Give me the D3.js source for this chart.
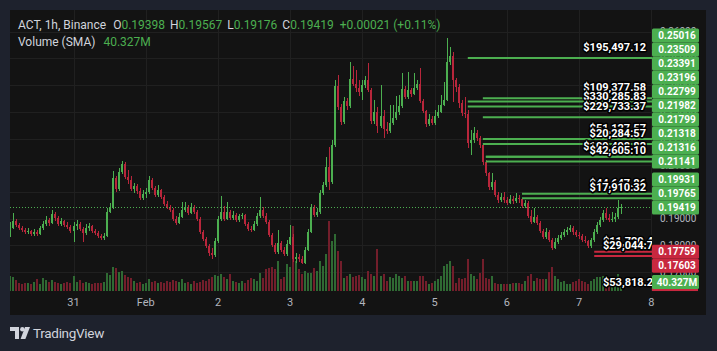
<!DOCTYPE html>
<html><head><meta charset="utf-8">
<script src="https://cdn.jsdelivr.net/npm/d3@7"></script>
<style>
html,body{margin:0;padding:0;background:#1e222d;overflow:hidden;}
svg{display:block;font-family:Roboto,"Liberation Sans",Arial,sans-serif;}
</style></head><body>
<svg id="c" width="717" height="351"></svg>
<script>
// ---------------- data ----------------
const firstCandle = "2025-01-30T03:00:00Z";   // hourly candles
const firstOpen = 0.1839;
const closes = [
0.1865,0.1891,0.1876,0.1865,0.1858,0.1850,0.1854,0.1843,0.1850,0.1843,
0.1865,0.1880,0.1895,0.1884,0.1918,0.1903,0.1880,0.1891,0.1876,0.1869,
0.1854,0.1873,0.1880,0.1861,0.1846,0.1865,0.1873,0.1854,0.1846,0.1835,
0.1828,0.1835,0.1925,0.1944,0.2052,0.2011,0.2075,0.2105,0.2056,0.2045,
0.2011,0.2022,0.2004,0.1977,0.1992,0.2000,0.2045,0.2015,0.1989,0.2007,
0.1981,0.1955,0.1944,0.1933,0.1899,0.1884,0.1906,0.1933,0.1944,0.1921,
0.1944,0.1925,0.1899,0.1850,0.1824,0.1798,0.1771,0.1764,0.1816,0.1899,
0.1925,0.1899,0.1925,0.1903,0.1914,0.1895,0.1910,0.1914,0.1880,0.1861,
0.1858,0.1880,0.1910,0.1933,0.1910,0.1888,0.1839,0.1801,0.1775,0.1809,
0.1783,0.1768,0.1805,0.1831,0.1749,0.1756,0.1749,0.1734,0.1783,0.1850,
0.1944,0.1914,0.1925,0.1996,0.2026,0.2094,0.2037,0.2176,0.2397,0.2318,
0.2262,0.2341,0.2322,0.2423,0.2404,0.2389,0.2374,0.2401,0.2419,0.2382,
0.2266,0.2299,0.2247,0.2284,0.2236,0.2228,0.2258,0.2277,0.2299,0.2322,
0.2386,0.2356,0.2382,0.2367,0.2389,0.2404,0.2341,0.2303,0.2255,0.2273,
0.2258,0.2284,0.2299,0.2326,0.2344,0.2487,0.2509,0.2419,0.2393,0.2333,
0.2296,0.2292,0.2183,0.2195,0.2221,0.2202,0.2176,0.2113,0.2071,0.2019,
0.2037,0.1989,0.1970,0.1981,0.1970,0.1959,0.1974,0.1966,0.1977,0.1974,
0.1947,0.1959,0.1910,0.1888,0.1906,0.1884,0.1854,0.1831,0.1850,0.1820,
0.1790,0.1813,0.1828,0.1839,0.1850,0.1858,0.1865,0.1850,0.1839,0.1835,
0.1820,0.1816,0.1798,0.1820,0.1850,0.1876,0.1895,0.1921,0.1903,0.1895,
0.1899,0.1906,0.19398,0.19419];
const highs = [
0.1888,0.1921,0.1899,0.1884,0.1873,0.1865,0.1865,0.1858,0.1861,0.1858,
0.1873,0.1891,0.1910,0.1903,0.1933,0.1925,0.1910,0.1903,0.1895,0.1888,
0.1876,0.1888,0.1895,0.1888,0.1869,0.1880,0.1884,0.1876,0.1861,0.1854,
0.1843,0.1846,0.1940,0.1959,0.2079,0.2060,0.2090,0.2116,0.2113,0.2082,
0.2060,0.2034,0.2030,0.2015,0.2007,0.2015,0.2060,0.2052,0.2022,0.2026,
0.2011,0.1989,0.1966,0.1951,0.1940,0.1910,0.1921,0.1962,0.1962,0.1951,
0.1959,0.1951,0.1933,0.1906,0.1858,0.1831,0.1805,0.1790,0.1828,0.1910,
0.1985,0.1947,0.1962,0.1933,0.1929,0.1921,0.1918,0.1921,0.1918,0.1888,
0.1873,0.1891,0.1921,0.1981,0.1944,0.1921,0.1895,0.1846,0.1809,0.1858,
0.1816,0.1794,0.1820,0.1876,0.1843,0.1771,0.1768,0.1760,0.1794,0.1861,
0.1955,0.1951,0.1940,0.2007,0.2037,0.2132,0.2168,0.2195,0.2419,0.2438,
0.2329,0.2356,0.2352,0.2487,0.2472,0.2457,0.2419,0.2419,0.2435,0.2483,
0.2389,0.2344,0.2318,0.2401,0.2307,0.2262,0.2326,0.2326,0.2359,0.2363,
0.2445,0.2397,0.2449,0.2389,0.2445,0.2419,0.2464,0.2348,0.2307,0.2292,
0.2284,0.2307,0.2326,0.2363,0.2412,0.2577,0.2543,0.2524,0.2427,0.2404,
0.2344,0.2356,0.2307,0.2232,0.2243,0.2232,0.2210,0.2183,0.2120,0.2075,
0.2071,0.2045,0.2000,0.1996,0.2000,0.1981,0.1989,0.1985,0.1996,0.1989,
0.1977,0.1970,0.1966,0.1933,0.1940,0.1914,0.1891,0.1861,0.1865,0.1858,
0.1828,0.1828,0.1839,0.1850,0.1861,0.1869,0.1876,0.1873,0.1858,0.1850,
0.1843,0.1835,0.1820,0.1828,0.1861,0.1888,0.1906,0.1933,0.1940,0.1918,
0.1925,0.1921,0.1970,0.19567];
const lows = [
0.1831,0.1861,0.1869,0.1858,0.1850,0.1843,0.1843,0.1835,0.1835,0.1835,
0.1839,0.1858,0.1873,0.1873,0.1880,0.1891,0.1873,0.1873,0.1869,0.1861,
0.1846,0.1813,0.1858,0.1854,0.1813,0.1839,0.1854,0.1846,0.1839,0.1828,
0.1820,0.1820,0.1831,0.1921,0.1936,0.2000,0.2004,0.2067,0.2049,0.2030,
0.2004,0.1996,0.1992,0.1970,0.1970,0.1977,0.1992,0.2007,0.1981,0.1981,
0.1974,0.1947,0.1936,0.1925,0.1891,0.1876,0.1880,0.1903,0.1925,0.1914,
0.1918,0.1918,0.1891,0.1843,0.1816,0.1790,0.1760,0.1749,0.1756,0.1809,
0.1891,0.1891,0.1895,0.1895,0.1895,0.1888,0.1888,0.1899,0.1873,0.1854,
0.1850,0.1854,0.1873,0.1903,0.1903,0.1880,0.1831,0.1794,0.1768,0.1768,
0.1775,0.1760,0.1760,0.1801,0.1738,0.1734,0.1738,0.1730,0.1730,0.1779,
0.1846,0.1906,0.1906,0.1918,0.1989,0.2019,0.2007,0.2030,0.2168,0.2307,
0.2251,0.2255,0.2307,0.2314,0.2397,0.2374,0.2359,0.2344,0.2389,0.2374,
0.2255,0.2255,0.2221,0.2240,0.2202,0.2217,0.2221,0.2251,0.2270,0.2288,
0.2314,0.2348,0.2348,0.2356,0.2363,0.2382,0.2333,0.2296,0.2243,0.2247,
0.2251,0.2251,0.2277,0.2296,0.2322,0.2341,0.2475,0.2337,0.2374,0.2314,
0.2284,0.2277,0.2165,0.2139,0.2183,0.2191,0.2165,0.2101,0.2060,0.2007,
0.2007,0.1981,0.1959,0.1962,0.1959,0.1951,0.1955,0.1955,0.1959,0.1959,
0.1940,0.1940,0.1903,0.1880,0.1884,0.1876,0.1846,0.1824,0.1824,0.1813,
0.1783,0.1786,0.1805,0.1820,0.1831,0.1839,0.1850,0.1839,0.1831,0.1824,
0.1813,0.1809,0.1790,0.1790,0.1813,0.1843,0.1869,0.1888,0.1895,0.1888,
0.1888,0.1888,0.1899,0.19176];
const volumes = [ // millions
67,63,49,36,31,36,36,31,40,54, 31,58,49,40,49,40,36,31,36,40,
36,67,40,49,36,40,36,31,36,36, 36,40,81,72,108,103,85,90,72,63,
58,45,36,40,31,36,54,40,45,36, 40,36,45,40,49,45,40,54,36,40,
31,45,36,40,49,45,54,63,72,67, 76,63,54,76,45,40,36,45,36,49,
58,54,45,81,58,99,103,108,99,134, 54,63,121,108,291,134,99,76,90,81,
81,103,90,134,112,166,314,224,255,179, 134,58,67,76,63,67,72,63,54,90,
76,67,188,67,76,45,63,58,76,67, 58,67,45,45,45,45,67,67,45,31,
36,45,54,67,112,121,134,112,36,58, 54,58,143,76,67,54,81,143,58,54,
67,36,31,31,31,31,31,36,36,36, 31,45,67,76,45,58,54,54,54,85,
108,67,54,40,45,31,31,40,45,54, 45,40,31,45,54,63,63,67,54,45,
58,63,76,18];

const dayTicks = ["2025-01-31","2025-02-01","2025-02-02","2025-02-03","2025-02-04","2025-02-05","2025-02-06","2025-02-07","2025-02-08"];
const dayLabels = ["31","Feb","2","3","4","5","6","7","8"];
const priceTicks = [0.17,0.18,0.19,0.20,0.21,0.22,0.23,0.24,0.25,0.26];

const greenLevels     = [0.25016,0.23509,0.23391,0.23196,0.22799,0.21982,0.21799,0.21318,0.21316,0.21141,0.19931,0.19765];
const greenLevelStart = [152,157,152,152,157,157,157,158,158,158,170,170]; // candle index where line begins
const greenLevelText  = ["$195,497.12","$109,377.58","","$330,285.83","$229,733.37","$51,127.57","$20,284.57","$109,498.82","","$42,605.10","$44,647.86","$17,910.32"];
const redLevels     = [0.17759,0.17603];
const redLevelStart = [194,194];
const redLevelText  = ["$11,720.45","$29,044.71"];

const lastPrice = 0.19419;
const legendTitle = "ACT, 1h, Binance";
const legendKeys = ["O","H","L","C"];
const legendVals = ["0.19398","0.19567","0.19176","0.19419"];
const legendChange = "+0.00021 (+0.11%)";
const volumeSMA = 40.327;
const volumeSMAText = "40.327M";
const volumeLevelText = "$53,818.25";

// ---------------- layout ----------------
const W = 717, H = 351;
const paneL = 10, paneT = 10, paneR = 706, paneB = 315, plotR = 652, volBase = 291;
const GREEN = "#4caf50", RED = "#b8263b", RED_LBL = "#c8283f";
const VGREEN = "#2f6a33", VRED = "#731e2b";

const svg = d3.select("#c");
svg.append("rect").attr("width", W).attr("height", H).attr("fill", "#1e222d");
svg.append("rect").attr("x", paneL).attr("y", paneT).attr("width", paneR - paneL).attr("height", paneB - paneT).attr("fill", "#131313");

const x = d3.scaleUtc().domain([new Date("2025-01-31T00:00:00Z"), new Date("2025-02-08T00:00:00Z")]).range([73.5, 651.4]);
const y = d3.scaleLinear().domain([0.17, 0.26]).range([272.1, 31.7]);
const vy = d3.scaleLinear().domain([0, 320]).range([volBase, volBase - 71.1]);

svg.append("defs").append("clipPath").attr("id", "plot")
  .append("rect").attr("x", paneL).attr("y", paneT).attr("width", plotR - paneL).attr("height", volBase - paneT);

const plot = svg.append("g").attr("clip-path", "url(#plot)");

// grid
plot.append("g").selectAll("line").data(priceTicks).join("line")
  .attr("x1", paneL).attr("x2", plotR)
  .attr("y1", d => Math.round(y(d)) + 0.5).attr("y2", d => Math.round(y(d)) + 0.5)
  .attr("stroke", "#202020");
const dayDates = dayTicks.map(d => new Date(d + "T00:00:00Z"));
plot.append("g").selectAll("line").data(dayDates).join("line")
  .attr("y1", paneT).attr("y2", volBase)
  .attr("x1", d => Math.round(x(d)) + 0.5).attr("x2", d => Math.round(x(d)) + 0.5)
  .attr("stroke", "#202020");

// candles
const t0 = new Date(firstCandle);
const candles = closes.map((c, i) => {
  const o = i === 0 ? firstOpen : (i === closes.length - 1 ? +legendVals[0] : closes[i - 1]);
  return { t: d3.utcHour.offset(t0, i), o, c, h: highs[i], l: lows[i], v: volumes[i], up: c >= o };
});

plot.append("g").attr("shape-rendering", "crispEdges").selectAll("rect").data(candles).join("rect")
  .attr("x", d => Math.round(x(d.t)) - 1).attr("width", 2)
  .attr("y", d => vy(d.v)).attr("height", d => volBase - vy(d.v))
  .attr("fill", d => d.up ? VGREEN : VRED);

const cg = plot.append("g").attr("shape-rendering", "crispEdges");
cg.selectAll("rect.w").data(candles).join("rect").attr("class", "w")
  .attr("x", d => Math.round(x(d.t)) - 0.5).attr("width", 1)
  .attr("y", d => y(d.h)).attr("height", d => Math.max(1, y(d.l) - y(d.h)))
  .attr("fill", d => d.up ? GREEN : RED);
cg.selectAll("rect.b").data(candles).join("rect").attr("class", "b")
  .attr("x", d => Math.round(x(d.t)) - 1).attr("width", 2)
  .attr("y", d => y(Math.max(d.o, d.c))).attr("height", d => Math.max(1, Math.abs(y(d.o) - y(d.c))))
  .attr("fill", d => d.up ? GREEN : RED);

// level lines
const lines = greenLevels.map((p, i) => ({ p, s: greenLevelStart[i], txt: greenLevelText[i], col: GREEN, anchor: "end" }))
  .concat(redLevels.map((p, i) => ({ p, s: redLevelStart[i], txt: redLevelText[i], col: RED_LBL, anchor: "start" })));
plot.append("g").selectAll("line").data(lines).join("line")
  .attr("x1", d => x(d3.utcHour.offset(t0, d.s))).attr("x2", plotR)
  .attr("y1", d => y(d.p)).attr("y2", d => y(d.p))
  .attr("stroke", d => d.col).attr("stroke-width", 2);

// current price dotted line
plot.append("line").attr("x1", paneL).attr("x2", plotR)
  .attr("y1", Math.round(y(lastPrice)) + 0.5).attr("y2", Math.round(y(lastPrice)) + 0.5)
  .attr("stroke", GREEN).attr("stroke-dasharray", "1 2");

// dollar labels
const lbl = plot.append("g").attr("font-size", 11).attr("font-weight", 700)
  .attr("fill", "#ffffff").attr("stroke", "#000").attr("stroke-width", 3)
  .attr("stroke-linejoin", "round").attr("paint-order", "stroke");
lbl.selectAll("text").data(lines.filter(d => d.txt)).join("text")
  .attr("x", d => d.anchor === "end" ? 646 : 603)
  .attr("y", d => y(d.p) - 11).attr("dy", "0.36em")
  .attr("text-anchor", d => d.anchor).text(d => d.txt);
lbl.append("text").attr("x", 603).attr("y", vy(volumeSMA)).attr("dy", "0.36em").text(volumeLevelText);

// header legend
const hdr = svg.append("g").attr("font-size", 12).attr("fill", "#d1d4dc");
const l1 = hdr.append("text").attr("x", 18).attr("y", 29);
l1.append("tspan").text(legendTitle);
legendKeys.forEach((k, i) => {
  l1.append("tspan").attr("dx", i === 0 ? 7 : 5).text(k);
  l1.append("tspan").attr("fill", GREEN).text(legendVals[i]);
});
l1.append("tspan").attr("dx", 6).attr("fill", GREEN).text(legendChange);
const l2 = hdr.append("text").attr("x", 18).attr("y", 46);
l2.append("tspan").text("Volume (SMA)");
l2.append("tspan").attr("dx", 8).attr("fill", GREEN).text(volumeSMAText);

// price axis tick labels
svg.append("g").attr("font-size", 10).attr("fill", "#b2b5be")
  .selectAll("text").data(priceTicks).join("text")
  .attr("x", 660).attr("y", d => y(d)).attr("dy", "0.36em")
  .text(d => d3.format(".5f")(d));

// price axis label boxes with stacking
const cur = { p: lastPrice, fill: GREEN, txt: d3.format(".5f")(lastPrice) };
cur.ly = y(lastPrice);
const above = greenLevels.map(p => ({ p, fill: GREEN, txt: d3.format(".5f")(p) })).sort((a, b) => a.p - b.p);
let prev = cur.ly;
above.forEach(l => { l.ly = Math.min(y(l.p), prev - 14); prev = l.ly; });
const below = redLevels.map(p => ({ p, fill: RED_LBL, txt: d3.format(".5f")(p) })).sort((a, b) => b.p - a.p);
prev = cur.ly;
below.forEach(l => { l.ly = Math.max(y(l.p), prev + 14); prev = l.ly; });
const boxes = above.concat([cur], below);

// volume label boxes
const vLy = vy(volumeSMA);
svg.append("rect").attr("x", 652).attr("y", vLy - 5).attr("width", 46).attr("height", 14).attr("fill", RED_LBL);
boxes.push({ ly: vLy, fill: GREEN, txt: volumeSMAText });

const bx = svg.append("g");
bx.selectAll("rect").data(boxes).join("rect")
  .attr("x", 652).attr("y", d => d.ly - 7).attr("width", 47).attr("height", 14)
  .attr("rx", 1.5).attr("fill", d => d.fill);
bx.selectAll("text").data(boxes).join("text")
  .attr("x", 677).attr("y", d => d.ly).attr("dy", "0.36em")
  .attr("text-anchor", "middle").attr("font-size", 10).attr("font-weight", 700)
  .attr("fill", "#ffffff").text(d => d.txt);

// time axis
svg.append("g").attr("font-size", 11).attr("fill", "#b2b5be")
  .selectAll("text").data(dayDates).join("text")
  .attr("x", d => x(d)).attr("y", 302).attr("dy", "0.36em").attr("text-anchor", "middle")
  .text((d, i) => dayLabels[i]);

// TradingView logo
const logo = svg.append("g").attr("fill", "#d1d4dc");
logo.append("path").attr("d", "M10,327 H19 V339 H15 V331 H10 Z");
logo.append("circle").attr("cx", 22.3).attr("cy", 329.3).attr("r", 2.2);
logo.append("path").attr("d", "M25,327 H30 L25.4,339 H20.6 Z");
logo.append("text").attr("x", 33).attr("y", 338).attr("font-size", 13.5).attr("letter-spacing", -0.3).text("TradingView");
</script>
</body></html>
